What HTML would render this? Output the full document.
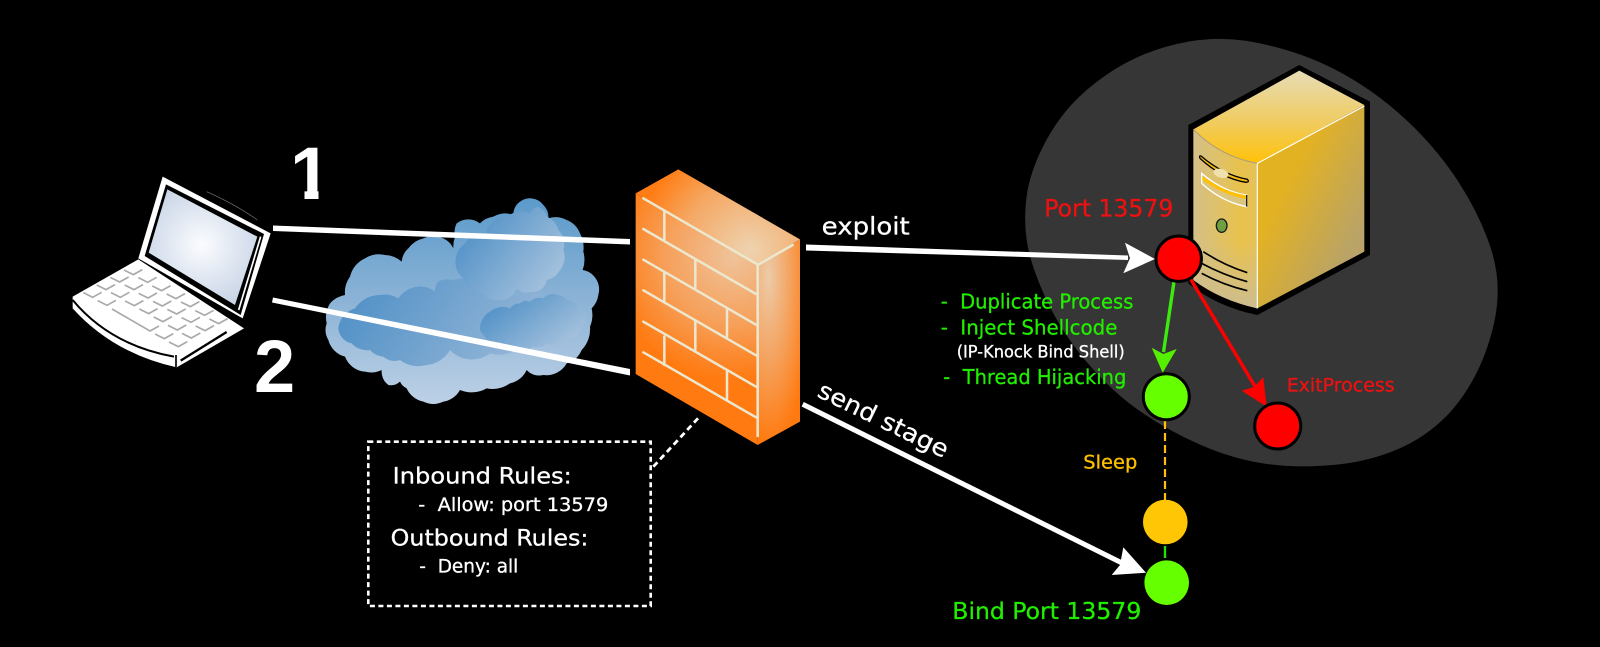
<!DOCTYPE html>
<html>
<head>
<meta charset="utf-8">
<style>
html,body{margin:0;padding:0;background:#000;width:1600px;height:647px;overflow:hidden}
svg{display:block}
text{font-family:"DejaVu Sans","Liberation Sans",sans-serif;fill:currentColor;stroke:currentColor;stroke-width:.3px}
.w{color:#fff}.g{color:#22ee00}.r{color:#ee1111}.y{color:#ffc000}
.big{font-family:"Liberation Sans",sans-serif;font-weight:700;font-size:74px;stroke-width:0}
</style>
</head>
<body>
<svg width="1600" height="647" viewBox="0 0 1600 647" xmlns="http://www.w3.org/2000/svg">
<defs>
<radialGradient id="scr" gradientUnits="userSpaceOnUse" cx="455" cy="345" r="190"><stop offset="0" stop-color="#fbfcfe"/><stop offset="1" stop-color="#c9d5e7"/></radialGradient>
<linearGradient id="cl0" x1="0" y1="0" x2="0" y2="1"><stop offset="0" stop-color="#5a9aca"/><stop offset=".5" stop-color="#8cb3d6"/><stop offset="1" stop-color="#bdd1e6"/></linearGradient>
<linearGradient id="cl1" x1="0" y1="0" x2="1" y2=".3"><stop offset="0" stop-color="#4a8dc5"/><stop offset="1" stop-color="#8fb3d6"/></linearGradient>
<linearGradient id="cl2" x1="0" y1=".2" x2="1" y2=".9"><stop offset="0" stop-color="#4a8dc5"/><stop offset="1" stop-color="#b0c8e0"/></linearGradient>
<radialGradient id="fwL" gradientUnits="userSpaceOnUse" cx="400" cy="320" r="370"><stop offset="0" stop-color="#efc39a"/><stop offset=".55" stop-color="#f6a05a"/><stop offset="1" stop-color="#ff7a10"/></radialGradient>
<radialGradient id="fwT" gradientUnits="userSpaceOnUse" cx="450" cy="300" r="340"><stop offset="0" stop-color="#eed3b0"/><stop offset=".6" stop-color="#f5a864"/><stop offset="1" stop-color="#ff7d14"/></radialGradient>
<radialGradient id="fwR" gradientUnits="userSpaceOnUse" cx="505" cy="380" r="500" gradientTransform="translate(505 380) scale(.26 1) translate(-505 -380)"><stop offset="0" stop-color="#eccba8"/><stop offset=".55" stop-color="#f59f58"/><stop offset="1" stop-color="#ff7a10"/></radialGradient>
<linearGradient id="svT" gradientUnits="userSpaceOnUse" x1="0" y1="340" x2="0" y2="65"><stop offset="0" stop-color="#ffc107"/><stop offset=".45" stop-color="#f0cc60"/><stop offset="1" stop-color="#e7dcb4"/></linearGradient>
<linearGradient id="svF" x1="0" y1="0" x2="1" y2="0"><stop offset="0" stop-color="#d4c088"/><stop offset=".75" stop-color="#e9c24c"/><stop offset="1" stop-color="#e4c25a"/></linearGradient>
<linearGradient id="svB" gradientUnits="userSpaceOnUse" x1="0" y1="580" x2="0" y2="775"><stop offset="0" stop-color="#cdbd90" stop-opacity="0"/><stop offset="1" stop-color="#cdbd90"/></linearGradient>
<linearGradient id="svR" gradientUnits="userSpaceOnUse" x1="500" y1="400" x2="733" y2="520"><stop offset="0" stop-color="#e3b222"/><stop offset="1" stop-color="#b9a367"/></linearGradient>
</defs>
<rect width="1600" height="647" fill="#000"/>

<g transform="translate(1000 20) scale(.33333)">
<path fill="#363636" d="M82 515Q95 440 142 355Q190 270 260 210Q330 150 405 115Q480 80 565 65Q650 50 735 62Q820 75 910 107Q1000 140 1085 195Q1170 250 1245 325Q1320 400 1375 485Q1430 570 1462 655Q1495 740 1493 820Q1492 900 1456 998Q1420 1095 1358 1168Q1295 1240 1208 1281Q1120 1322 1010 1334Q900 1345 800 1332Q700 1318 600 1274Q500 1230 415 1170Q330 1110 255 1020Q180 930 135 830Q90 730 80 660Q70 590 82 515Z"/>
</g>

<!-- laptop -->
<g transform="translate(50 130) scale(.33333)">
<path d="M470 185Q560 225 622 270" stroke="#777" stroke-width="2" fill="none"/>
<path d="M338 140L662 310L578 565L265 385Z" fill="#fff"/>
<path d="M348 163L642 312L572 555L284 378Z" fill="#000"/>
<path d="M352 178L622 320L555 525L296 368Z" fill="url(#scr)"/>
<path d="M632 320L566 540" stroke="#fff" stroke-width="5"/>
<path d="M265 388L582 595L380 712Q190 670 68 535V500Z" fill="#fff"/>
<path d="M68 510Q180 645 372 680" stroke="#000" stroke-width="6" fill="none"/>
<path d="M378 675V712" stroke="#000" stroke-width="5"/>
<path d="M392 692L530 606" stroke="#000" stroke-width="7"/>
<path fill="none" stroke="#aaa" stroke-width="5" d="M222 420l28 14l27-15M265 443l28 14l27-15M307 468l28 14l27-15M350 492l28 14l27-15M393 516l28 14l27-15M436 542l28 14l27-15M478 567l28 14l27-15M181 442l28 14l27-15M224 465l28 14l27-15M266 490l28 14l27-15M309 514l28 14l27-15M352 538l28 14l27-15M395 563l28 14l27-15M437 588l28 14l27-15M140 465l28 14l27-15M183 488l28 14l27-15M225 513l28 14l27-15M268 537l28 14l27-15M311 561l28 14l27-15M354 586l28 14l27-15M396 610l28 14l27-15M100 488l28 14l27-15M143 512l28 14l27-15M186 537l114 66l27-15M315 612l28 14l27-15M357 636l28 14l27-15"/>
</g>

<!-- cloud -->
<g transform="translate(310 180) scale(.33333)">
<path fill="url(#cl0)" d="M50 430A80 80 0 0 1 60 370A80 80 0 0 1 105 345A80 80 0 0 1 120 290A80 80 0 0 1 165 235A80 80 0 0 1 225 225A80 80 0 0 1 275 245A60 60 0 0 1 295 205A80 80 0 0 1 340 175A80 80 0 0 1 400 175A60 60 0 0 1 430 205A90 90 0 0 1 435 170A60 60 0 0 1 440 130A60 60 0 0 1 475 118A60 60 0 0 1 510 130A70 70 0 0 1 550 110A70 70 0 0 1 610 105A50 50 0 0 1 630 65A50 50 0 0 1 665 55A50 50 0 0 1 700 75A50 50 0 0 1 715 115A70 70 0 0 1 770 120A70 70 0 0 1 810 160A90 90 0 0 1 820 215A90 90 0 0 1 818 270A60 60 0 0 1 860 300A60 60 0 0 1 865 345A70 70 0 0 1 845 385A90 90 0 0 1 840 440A90 90 0 0 1 815 510A70 70 0 0 1 770 550A70 70 0 0 1 700 585A50 50 0 0 1 650 570A70 70 0 0 1 600 610A90 90 0 0 1 530 625A90 90 0 0 1 450 630A70 70 0 0 1 400 665A70 70 0 0 1 340 665A70 70 0 0 1 290 625A40 40 0 0 1 270 605A40 40 0 0 1 235 615A50 50 0 0 1 215 570A70 70 0 0 1 165 575A70 70 0 0 1 105 530A70 70 0 0 1 55 480A60 60 0 0 1 50 430Z"/>
<path fill="url(#cl1)" d="M85 445A70 70 0 0 1 135 385A90 90 0 0 1 210 345A80 80 0 0 1 265 355A80 80 0 0 1 325 320A70 70 0 0 1 375 335A40 40 0 0 1 385 305A60 60 0 0 1 430 300A90 90 0 0 1 530 330A90 90 0 0 1 620 310A70 70 0 0 1 680 320A50 50 0 0 1 690 360L650 470A90 90 0 0 1 540 520A90 90 0 0 1 420 510A90 90 0 0 1 350 555A90 90 0 0 1 270 540A50 50 0 0 1 220 530A60 60 0 0 1 180 510A60 60 0 0 1 125 490A50 50 0 0 1 85 445Z"/>
<path fill="url(#cl2)" d="M437 255A70 70 0 0 1 465 190A70 70 0 0 1 530 160A40 40 0 0 1 545 130A60 60 0 0 1 590 110A70 70 0 0 1 660 100A35 35 0 0 1 680 80A40 40 0 0 1 710 110A60 60 0 0 1 745 150A60 60 0 0 1 760 210A60 60 0 0 1 750 270A60 60 0 0 1 710 300A40 40 0 0 1 665 335A40 40 0 0 1 620 325A50 50 0 0 1 570 360A50 50 0 0 1 520 340A60 60 0 0 1 460 295A60 60 0 0 1 437 255Z"/>
<path fill="url(#cl2)" d="M510 445A60 60 0 0 1 540 395A60 60 0 0 1 600 385A40 40 0 0 1 630 370A30 30 0 0 1 660 365A40 40 0 0 1 700 355A40 40 0 0 1 745 345A35 35 0 0 1 770 360A40 40 0 0 1 805 380A35 35 0 0 1 825 415A40 40 0 0 1 810 450A50 50 0 0 1 770 480A50 50 0 0 1 710 490A40 40 0 0 1 670 500A50 50 0 0 1 620 505A50 50 0 0 1 570 485A40 40 0 0 1 520 465A30 30 0 0 1 510 445Z"/>
</g>

<!-- firewall -->
<g transform="translate(600 150) scale(.33333)">
<path d="M107 130L473 345V885L107 672Z" fill="url(#fwL)"/>
<path d="M107 130L235 58L600 268L473 345Z" fill="url(#fwT)"/>
<path d="M473 345L600 268V815L473 885Z" fill="url(#fwR)"/>
<g stroke="#ebe8cf" stroke-width="7.5" fill="none" stroke-linecap="round">
<path d="M130 145L470 342M130 237L468 432M130 329L468 524M130 421L468 616M130 515L468 710M130 607L468 802"/>
<path d="M473 345V858M473 345L578 285"/>
<path d="M193 185V270M193 367V455M193 560V645M286 330V415M286 515V600M381 480V560M381 665V750"/>
</g>
</g>

<!-- server -->
<g transform="translate(1120 50) scale(.33333)">
<path d="M205 225L538 45L750 155V615L412 795Q290 770 205 700Z" fill="#000"/>
<path d="M220 238L538 62L733 165L412 340Q300 320 220 238Z" fill="url(#svT)"/>
<path d="M220 238Q300 320 412 340V775Q300 750 220 690Z" fill="url(#svF)"/>
<path d="M220 238Q300 320 412 340V775Q300 750 220 690Z" fill="url(#svB)"/>
<path d="M412 340L733 165V605L412 775Z" fill="url(#svR)"/>
<path d="M220 238Q300 320 412 340" fill="none" stroke="#a89a80" stroke-width="3"/>
<path d="M412 340V775M412 340L733 168" stroke="#fff" stroke-width="3.5" fill="none"/>
<path d="M243 318Q310 375 382 388Q390 396 378 397Q305 385 240 325Q236 316 243 318Z" fill="#f6bd10" stroke="#000" stroke-width="4"/>
<ellipse cx="303" cy="370" rx="23" ry="13" transform="rotate(15 303 370)" fill="#efe0ae"/>
<path d="M245 370Q310 425 380 435V470Q305 455 245 400Z" fill="#dcc67f" stroke="#fff" stroke-width="4"/>
<path d="M247 378Q310 425 378 436V447Q310 435 247 390Z" fill="#ffc107"/>
<path d="M380 435V470" stroke="#222" stroke-width="4"/>
<ellipse cx="305" cy="527" rx="16" ry="20" fill="#6f9f3f" stroke="#1a1a1a" stroke-width="4"/>
<path d="M250 605Q310 645 382 668M245 640Q310 675 382 695M245 670Q310 705 382 722" stroke="#000" stroke-width="5" fill="none"/>
</g>

<!-- connector lines -->
<path d="M273 225.5L630 239V244.5L273 231Z" fill="#fff"/>
<path d="M273 297.5L630 369V375.5L272 302.5Z" fill="#fff"/>
<path d="M806 244.5L1128 255.5V260L806 250.5Z" fill="#fff"/>
<path d="M1155 259L1125 242.7L1130 258.3L1123.3 273.3Z" fill="#fff"/>
<path d="M802.7 404.3L1122 563" stroke="#fff" stroke-width="5"/>
<path d="M1146 572.7L1123.3 547.3L1120 565L1111.7 575Z" fill="#fff"/>
<path d="M1174 281.7L1163.5 352" stroke="#3cea10" stroke-width="3.4"/>
<path d="M1162.7 372.7L1151.7 347.7L1163.3 354L1176.7 349Z" fill="#55f000"/>
<path d="M1190.7 279.3L1256 388" stroke="#f00" stroke-width="3.4"/>
<path d="M1266.7 406.7L1241.7 390.7L1254.3 386.7L1263.3 377.3Z" fill="#f00"/>
<path d="M1165 421V500" stroke="#ffc107" stroke-width="2.2" stroke-dasharray="8 4" fill="none"/>
<path d="M1165 546V560" stroke="#22e000" stroke-width="2.4" stroke-dasharray="12 4" fill="none"/>

<!-- nodes -->
<circle cx="1178.7" cy="258.7" r="22.7" fill="#f00" stroke="#000" stroke-width="3"/>
<circle cx="1166.3" cy="396.7" r="23" fill="#66ff00" stroke="#000" stroke-width="3"/>
<circle cx="1277.7" cy="426" r="23" fill="#f00" stroke="#000" stroke-width="3"/>
<circle cx="1165.3" cy="522" r="22.3" fill="#ffc605"/>
<circle cx="1166.7" cy="582.7" r="22.3" fill="#66ff00"/>

<!-- rule box -->
<rect x="368.3" y="441.7" width="282.4" height="164.3" fill="none" stroke="#fff" stroke-width="2.6" stroke-dasharray="5 3.5"/>
<path d="M653.3 466.7L698 418.3" stroke="#fff" stroke-width="2.8" stroke-dasharray="6 4" fill="none"/>

<!-- labels -->
<text class="big w" x="290" y="199">1</text>
<rect x="280" y="186" width="24.5" height="16" fill="#000"/>
<rect x="318.5" y="180" width="16" height="22" fill="#000"/>
<text class="big w" x="254" y="392">2</text>
<text class="w" x="821.7" y="234.3" font-size="24" textLength="88" lengthAdjust="spacingAndGlyphs">exploit</text>
<text class="w" transform="translate(816 396) rotate(26)" font-size="24" textLength="142" lengthAdjust="spacingAndGlyphs">send stage</text>
<text class="r" x="1044.3" y="216.7" font-size="24" textLength="129" lengthAdjust="spacingAndGlyphs">Port 13579</text>
<text class="g" x="940.7" y="308.3" font-size="20.5" textLength="192.7" lengthAdjust="spacingAndGlyphs" xml:space="preserve">-  Duplicate Process</text>
<text class="g" x="940.7" y="334.3" font-size="20.5" textLength="176.7" lengthAdjust="spacingAndGlyphs" xml:space="preserve">-  Inject Shellcode</text>
<text class="w" x="956.7" y="357.7" font-size="16.5" textLength="168" lengthAdjust="spacingAndGlyphs">(IP-Knock Bind Shell)</text>
<text class="g" x="943.3" y="384" font-size="20.5" textLength="183" lengthAdjust="spacingAndGlyphs" xml:space="preserve">-  Thread Hijacking</text>
<text class="r" x="1286.7" y="391.7" font-size="19" textLength="108" lengthAdjust="spacingAndGlyphs">ExitProcess</text>
<text class="y" x="1083.3" y="468.3" font-size="19" textLength="54" lengthAdjust="spacingAndGlyphs">Sleep</text>
<text class="g" x="952.3" y="619" font-size="23" textLength="189" lengthAdjust="spacingAndGlyphs">Bind Port 13579</text>
<text class="w" x="392.7" y="483.3" font-size="22" textLength="179" lengthAdjust="spacingAndGlyphs">Inbound Rules:</text>
<text class="w" x="418.3" y="511" font-size="18.8" textLength="190" lengthAdjust="spacingAndGlyphs" xml:space="preserve">-  Allow: port 13579</text>
<text class="w" x="390.7" y="545.7" font-size="22" textLength="197.7" lengthAdjust="spacingAndGlyphs">Outbound Rules:</text>
<text class="w" x="419.3" y="572.7" font-size="18.8" textLength="99" lengthAdjust="spacingAndGlyphs" xml:space="preserve">-  Deny: all</text>
</svg>
</body>
</html>
